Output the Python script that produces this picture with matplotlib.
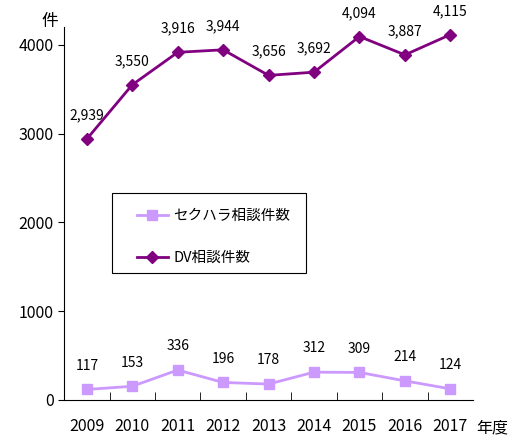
import matplotlib.pyplot as plt
from matplotlib.patches import Rectangle
import numpy as np

plt.rcParams['font.family'] = ['Noto Sans CJK JP', 'DejaVu Sans']

years = ['2009', '2010', '2011', '2012', '2013', '2014', '2015', '2016', '2017']
sexhara = [117, 153, 336, 196, 178, 312, 309, 214, 124]
dv = [2939, 3550, 3916, 3944, 3656, 3692, 4094, 3887, 4115]

fig = plt.figure(figsize=(5.17, 4.37), dpi=100)
ax = fig.add_axes([0.124, 0.085, 0.791, 0.853])

x = np.arange(len(years))
ax.plot(x, sexhara, color='#CC99FF', marker='s', markersize=7, linewidth=2,
        label='セクハラ相談件数')
ax.plot(x, dv, color='#800080', marker='D', markersize=6, linewidth=2,
        label='DV相談件数')

for xi, v in zip(x, sexhara):
    ax.annotate(str(v), (xi, v), textcoords='offset points', xytext=(0, 12),
                ha='center', va='bottom', fontsize=10)
for xi, v in zip(x, dv):
    ax.annotate(f'{v:,}', (xi, v), textcoords='offset points', xytext=(0, 12),
                ha='center', va='bottom', fontsize=10)

ax.set_xlim(-0.5, len(years) - 0.5)
ax.set_ylim(0, 4200)
ax.set_yticks([0, 1000, 2000, 3000, 4000])
ax.set_xticks(x)
ax.set_xticklabels(years, fontsize=11.5)
ax.set_xticks(np.arange(0.5, len(years) - 0.5, 1), minor=True)
ax.tick_params(axis='x', which='major', length=0, pad=13)
ax.tick_params(axis='x', which='minor', direction='in', length=6)
ax.tick_params(axis='y', direction='out', length=4, labelsize=11.5)
ax.spines['top'].set_visible(False)
ax.spines['right'].set_visible(False)

fig.text(0.097, 0.95, '件', fontsize=12, ha='center', va='center')
fig.text(0.952, 0.021, '年度', fontsize=11.5, ha='center', va='center')

# legend frame drawn separately (wide horizontal padding, narrow vertical)
fig.patches.append(Rectangle((112 / 517, 1 - 273 / 437), 194 / 517, 80 / 437,
                             transform=fig.transFigure, facecolor='white',
                             edgecolor='black', linewidth=0.8, zorder=3))
leg = fig.legend(*ax.get_legend_handles_labels(), loc='upper left',
                 bbox_to_anchor=(137 / 517, 1 - 209 / 437), fontsize=10.5,
                 frameon=False, borderpad=0, borderaxespad=0,
                 labelspacing=1.9, handlelength=2.1, handletextpad=0.4)
leg.set_zorder(4)

fig.savefig('out.png', dpi=100)
